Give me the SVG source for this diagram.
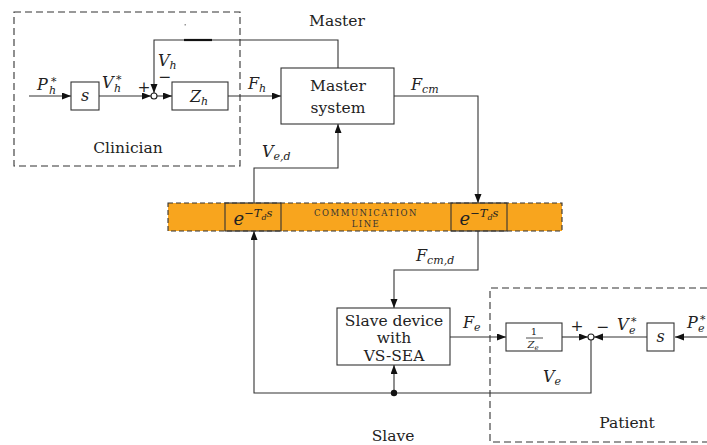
<svg xmlns="http://www.w3.org/2000/svg" width="707" height="445" viewBox="0 0 707 445">
<style>
.box{fill:#fff;stroke:#333;stroke-width:1.1}
.dash{fill:none;stroke:#333;stroke-width:1.1;stroke-dasharray:7,4}
.wire{fill:none;stroke:#333;stroke-width:1.1}
text{font-family:'DejaVu Serif','Noto Serif','Liberation Serif',serif;fill:#222}
.t{font-size:15.5px}
.m{font-size:16px;font-style:italic}
.sm{font-size:11px}
.sc{font-size:8.5px;letter-spacing:1.5px;fill:#333}
.sum{fill:#fff;stroke:#222;stroke-width:1.1}
</style>
<defs>
<marker id="arr" markerUnits="userSpaceOnUse" markerWidth="10" markerHeight="8" refX="9" refY="3.5" orient="auto">
<path d="M0,0 L9,3.5 L0,7 z" fill="#111"/>
</marker>
</defs>
<rect width="707" height="445" fill="#fff"/>

<g id="clinician-region">
<rect class="dash" x="14" y="12" width="226" height="154"/>
<text class="t" x="128" y="153" text-anchor="middle">Clinician</text>
</g>
<g id="master-label"><text class="t" x="337" y="26" text-anchor="middle">Master</text></g>
<g id="slave-label"><text class="t" x="393" y="441" text-anchor="middle">Slave</text></g>
<g id="patient-region">
<path class="dash" d="M707,288 H490 V442 H707"/>
<text class="t" x="627" y="428" text-anchor="middle">Patient</text>
</g>

<g id="comm-line">
<rect x="168" y="203" width="394" height="28" fill="#F8A51E" stroke="#333" stroke-width="1.1" stroke-dasharray="5,3"/>
<text class="sc" x="366" y="215.5" text-anchor="middle">COMMUNICATION</text>
<text class="sc" x="366" y="226.5" text-anchor="middle">LINE</text>
</g>

<g id="connectors">
<path class="wire" d="M29,96 H71" marker-end="url(#arr)"/>
<path class="wire" d="M99,96 H151" marker-end="url(#arr)"/>
<path class="wire" d="M157,96 H172" marker-end="url(#arr)"/>
<path class="wire" d="M338,68 V40 H154 V93" marker-end="url(#arr)"/>
<path d="M184,40 H212" stroke="#111" stroke-width="2.2"/>
<rect x="184.5" y="24" width="1.5" height="1.5" fill="#999"/>
<path class="wire" d="M228,96 H281" marker-end="url(#arr)"/>
<path class="wire" d="M394,96 H478 V203" marker-end="url(#arr)"/>
<path class="wire" d="M254,203 V168 H338 V124" marker-end="url(#arr)"/>
<path class="wire" d="M478,231 V270 H394 V308" marker-end="url(#arr)"/>
<path class="wire" d="M450,337 H506" marker-end="url(#arr)"/>
<path class="wire" d="M562,337 H588" marker-end="url(#arr)"/>
<path class="wire" d="M647,337 H594" marker-end="url(#arr)"/>
<path class="wire" d="M707,337 H675" marker-end="url(#arr)"/>
<path class="wire" d="M591,340 V393 H254 V231" marker-end="url(#arr)"/>
<path class="wire" d="M394,393 V365" marker-end="url(#arr)"/>
<circle cx="394" cy="393" r="3.2" fill="#111"/>
<text class="m" x="37" y="90">P<tspan class="sm" x="49" y="94">h</tspan><tspan class="sm" x="51" y="85">*</tspan></text>
<text class="m" x="102" y="88">V<tspan class="sm" x="114" y="92">h</tspan><tspan class="sm" x="116" y="83">*</tspan></text>
<text class="t" x="144" y="92" text-anchor="middle">+</text>
<text class="t" x="165" y="82" text-anchor="middle">−</text>
<text class="m" x="158" y="66">V<tspan class="sm" dy="3">h</tspan></text>
<text class="m" x="248" y="89">F<tspan class="sm" dy="3">h</tspan></text>
<text class="m" x="411" y="90">F<tspan class="sm" dy="3">cm</tspan></text>
<text class="m" x="262" y="157">V<tspan class="sm" dy="3">e,d</tspan></text>
<text class="m" x="416" y="261">F<tspan class="sm" dy="3">cm,d</tspan></text>
<text class="m" x="463" y="328">F<tspan class="sm" dy="3">e</tspan></text>
<text class="t" x="577" y="331" text-anchor="middle">+</text>
<text class="t" x="603" y="332" text-anchor="middle">−</text>
<text class="m" x="617" y="330">V<tspan class="sm" x="629" y="334">e</tspan><tspan class="sm" x="631" y="325">*</tspan></text>
<text class="m" x="687" y="328">P<tspan class="sm" x="698" y="332">e</tspan><tspan class="sm" x="700" y="323">*</tspan></text>
<text class="m" x="543" y="382">V<tspan class="sm" dy="3">e</tspan></text>
</g>

<g id="sum-h"><circle class="sum" cx="154" cy="96" r="3"/></g>
<g id="sum-e"><circle class="sum" cx="591" cy="337" r="3"/></g>

<g id="s-h">
<rect class="box" x="71" y="82" width="28" height="28"/>
<text class="m" x="85" y="101" text-anchor="middle">s</text>
</g>
<g id="Zh">
<rect class="box" x="172" y="82" width="56" height="28"/>
<text class="m" x="199" y="102" text-anchor="middle">Z<tspan class="sm" dy="3">h</tspan></text>
</g>
<g id="master-system">
<rect class="box" x="281" y="68" width="113" height="56"/>
<text class="t" x="338" y="91" text-anchor="middle">Master</text>
<text class="t" x="338" y="113" text-anchor="middle">system</text>
</g>
<g id="delay-left">
<rect class="box" x="225" y="203" width="56" height="28" style="fill:none"/>
<text class="m" x="253" y="225" style="font-size:18px" text-anchor="middle">e<tspan style="font-size:11.5px" dy="-8">−T<tspan style="font-size:8px" dy="2.5">d</tspan><tspan dy="-2.5">s</tspan></tspan></text>
</g>
<g id="delay-right">
<rect class="box" x="451" y="203" width="56" height="28" style="fill:none"/>
<text class="m" x="479" y="225" style="font-size:18px" text-anchor="middle">e<tspan style="font-size:11.5px" dy="-8">−T<tspan style="font-size:8px" dy="2.5">d</tspan><tspan dy="-2.5">s</tspan></tspan></text>
</g>
<g id="slave-device">
<rect class="box" x="337" y="308" width="113" height="57"/>
<text class="t" x="394" y="326" text-anchor="middle">Slave device</text>
<text class="t" x="394" y="343" text-anchor="middle">with</text>
<text class="t" x="394" y="361" text-anchor="middle">VS-SEA</text>
</g>
<g id="inv-Ze">
<rect class="box" x="506" y="323" width="56" height="28"/>
<text x="534" y="335" text-anchor="middle" style="font-size:10px">1</text>
<path d="M526,338 H543" stroke="#222" stroke-width="0.8"/>
<text x="533" y="348" text-anchor="middle" style="font-size:10px;font-style:italic">Z<tspan style="font-size:7px" dy="2">e</tspan></text>
</g>
<g id="s-e">
<rect class="box" x="647" y="323" width="27" height="28"/>
<text class="m" x="660.5" y="342" text-anchor="middle">s</text>
</g>
</svg>
